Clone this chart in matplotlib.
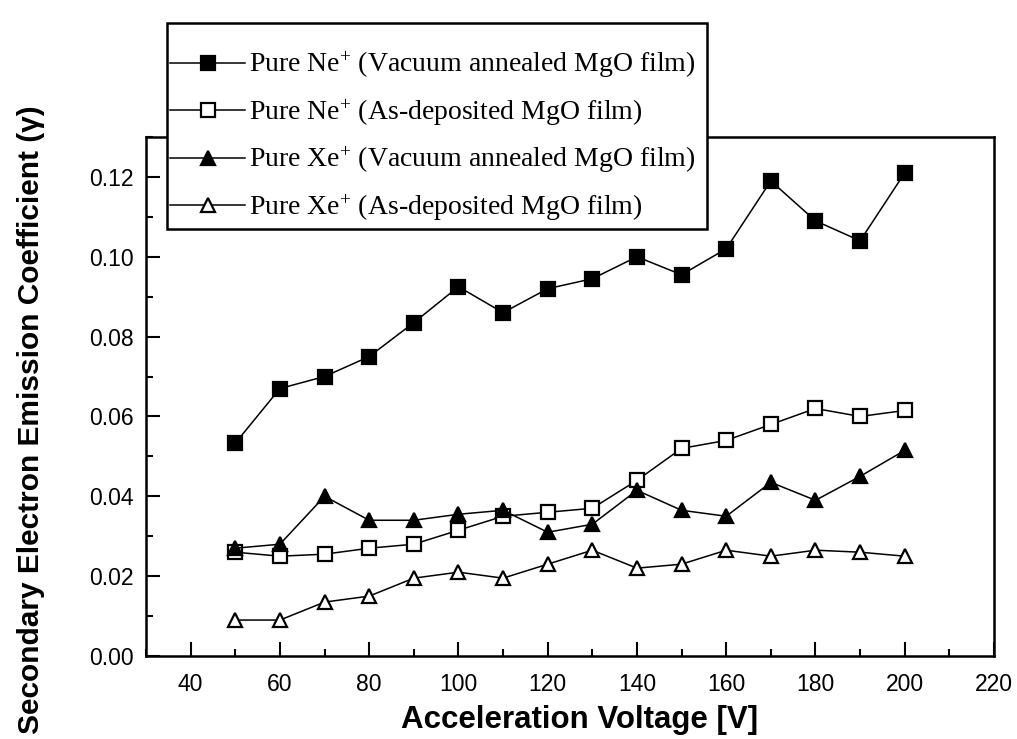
import matplotlib
matplotlib.use("Agg")
import matplotlib.pyplot as plt
from matplotlib.patches import Rectangle
from matplotlib.ticker import MultipleLocator, FormatStrFormatter

voltage = [50, 60, 70, 80, 90, 100, 110, 120, 130, 140, 150, 160, 170, 180, 190, 200]
ne_annealed = [0.0533, 0.067, 0.070, 0.075, 0.0835, 0.0925, 0.086, 0.092, 0.0945, 0.100,
               0.0955, 0.102, 0.119, 0.109, 0.104, 0.121]
ne_asdep = [0.026, 0.025, 0.0255, 0.027, 0.028, 0.0315, 0.035, 0.036, 0.037, 0.044,
            0.052, 0.054, 0.058, 0.062, 0.060, 0.0615]
xe_annealed = [0.027, 0.028, 0.040, 0.034, 0.034, 0.0355, 0.0365, 0.031, 0.033, 0.0415,
               0.0365, 0.035, 0.0435, 0.039, 0.045, 0.0515]
xe_asdep = [0.009, 0.009, 0.0135, 0.015, 0.0195, 0.021, 0.0195, 0.023, 0.0265, 0.022,
            0.023, 0.0265, 0.025, 0.0265, 0.026, 0.025]

labels = ["Pure Ne$^{+}$ (Vacuum annealed MgO film)",
          "Pure Ne$^{+}$ (As-deposited MgO film)",
          "Pure Xe$^{+}$ (Vacuum annealed MgO film)",
          "Pure Xe$^{+}$ (As-deposited MgO film)"]

plt.rcParams['mathtext.fontset'] = 'custom'
plt.rcParams['mathtext.rm'] = 'Liberation Serif'
plt.rcParams['mathtext.it'] = 'Liberation Serif:italic'

W, H = 1017, 739
fig = plt.figure(figsize=(W / 100, H / 100), dpi=100)
ax = fig.add_axes([146 / W, 1 - 656 / H, (994 - 146) / W, (656 - 137) / H])

common = dict(color='black', linewidth=1.1, markersize=10.5, markeredgewidth=1.6)
ax.plot(voltage, ne_annealed, marker='s', markerfacecolor='black', label=labels[0], **common)
ax.plot(voltage, ne_asdep, marker='s', markerfacecolor='white', label=labels[1], **common)
ax.plot(voltage, xe_annealed, marker='^', markerfacecolor='black', label=labels[2], **common)
ax.plot(voltage, xe_asdep, marker='^', markerfacecolor='white', label=labels[3], **common)

ax.set_xlim(30, 220)
ax.set_ylim(0, 0.13)
ax.xaxis.set_major_locator(MultipleLocator(20))
ax.xaxis.set_minor_locator(MultipleLocator(10))
ax.yaxis.set_major_locator(MultipleLocator(0.02))
ax.yaxis.set_minor_locator(MultipleLocator(0.01))
ax.yaxis.set_major_formatter(FormatStrFormatter('%.2f'))
ax.tick_params(which='both', direction='in', top=False, right=False,
               labelsize=16.5, width=1.5, labelfontfamily='Liberation Sans')
ax.tick_params(which='major', length=10)
ax.tick_params(which='minor', length=5)
ax.tick_params(axis='x', which='major', pad=12)
ax.tick_params(axis='y', which='major', pad=9)
for s in ax.spines.values():
    s.set_linewidth(1.8)

fig.text(580 / W, 1 - 720 / H, "Acceleration Voltage [V]", ha='center', va='center',
         fontsize=22.5, fontweight='bold', family='Liberation Sans')
fig.text(31 / W, 1 - 420 / H, "Secondary Electron Emission Coefficient (\u03b3)",
         rotation=90, ha='center', va='center', fontsize=21.5, fontweight='bold',
         family='Liberation Sans')

frame = Rectangle((167 / W, 1 - 229 / H), 540 / W, 206 / H, transform=fig.transFigure,
                  facecolor='white', edgecolor='black', linewidth=1.8, zorder=3)
fig.add_artist(frame)

leg = fig.legend(loc='upper left', bbox_to_anchor=(170 / W, 1 - 50 / H),
                 bbox_transform=fig.transFigure, frameon=False, borderpad=0,
                 labelspacing=0.62, handlelength=2.7, handletextpad=0.15,
                 borderaxespad=0, prop={'family': 'Liberation Serif', 'size': 20})
leg.set_zorder(5)

fig.savefig("out.png", dpi=100)
